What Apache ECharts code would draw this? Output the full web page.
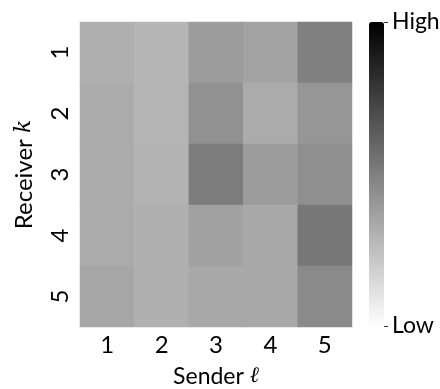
<!DOCTYPE html>
<html>
<head>
<meta charset="utf-8">
<script src="https://cdn.jsdelivr.net/npm/echarts@6/dist/echarts.min.js"></script>
<style>
  html, body { margin: 0; padding: 0; background: #fff; }
  #chart { width: 440px; height: 389px; }
</style>
</head>
<body>
<div id="chart"></div>
<script>
const senders = ['1', '2', '3', '4', '5'];
const receivers = ['1', '2', '3', '4', '5'];
// rows = receiver k, columns = sender l (darker = higher)
const weights = [
  [0.31, 0.29, 0.39, 0.36, 0.50],
  [0.33, 0.29, 0.43, 0.33, 0.41],
  [0.33, 0.30, 0.51, 0.39, 0.44],
  [0.33, 0.31, 0.37, 0.34, 0.53],
  [0.35, 0.31, 0.34, 0.34, 0.46]
];
const scaleEnds = ['High', 'Low'];

const cells = [];
weights.forEach((row, k) => {
  row.forEach((v, l) => cells.push([l, k, v]));
});

const myChart = echarts.init(document.getElementById('chart'), null, { renderer: 'canvas' });
const font = 'Lato';
const mathStyle = { fontFamily: 'DejaVu Serif', fontStyle: 'italic', fontSize: 22, color: '#000' };

myChart.setOption({
  animation: false,
  grid: { left: 80, right: 88, top: 22, bottom: 62, containLabel: false, outerBoundsMode: 'none' },
  xAxis: {
    type: 'category',
    data: senders,
    name: 'Sender {m|ℓ}',
    nameLocation: 'middle',
    nameGap: 38,
    nameTextStyle: { fontFamily: font, fontSize: 23, color: '#000', rich: { m: mathStyle } },
    axisLine: { show: false },
    axisTick: { show: false },
    splitArea: { show: false },
    axisLabel: { fontFamily: font, fontSize: 24, color: '#000', margin: 6 }
  },
  yAxis: {
    type: 'category',
    data: receivers,
    inverse: true,
    name: 'Receiver {m|k}',
    nameLocation: 'middle',
    nameRotate: 90,
    nameGap: 44,
    nameTextStyle: { fontFamily: font, fontSize: 24, color: '#000', rich: { m: mathStyle } },
    axisLine: { show: false },
    axisTick: { show: false },
    axisLabel: { fontFamily: font, fontSize: 24, color: '#000', rotate: 90, margin: 8 }
  },
  visualMap: {
    type: 'continuous',
    min: 0,
    max: 1,
    calculable: false,
    orient: 'vertical',
    left: 369,
    top: 22,
    padding: 0,
    itemWidth: 15,
    itemHeight: 305,
    inRange: { color: ['#ffffff', '#000000'] }
  },
  graphic: [
    { type: 'rect', left: 384, top: 22, shape: { width: 4, height: 1 }, style: { fill: '#333' } },
    { type: 'rect', left: 384, top: 326, shape: { width: 4, height: 1 }, style: { fill: '#333' } },
    { type: 'text', left: 392, top: 10, style: { text: scaleEnds[0], fontFamily: font, fontSize: 23, fill: '#000' } },
    { type: 'text', left: 392, top: 314, style: { text: scaleEnds[1], fontFamily: font, fontSize: 23, fill: '#000' } }
  ],
  series: [{
    type: 'heatmap',
    data: cells,
    itemStyle: { borderWidth: 0 },
    emphasis: { disabled: true }
  }]
});
</script>
</body>
</html>
